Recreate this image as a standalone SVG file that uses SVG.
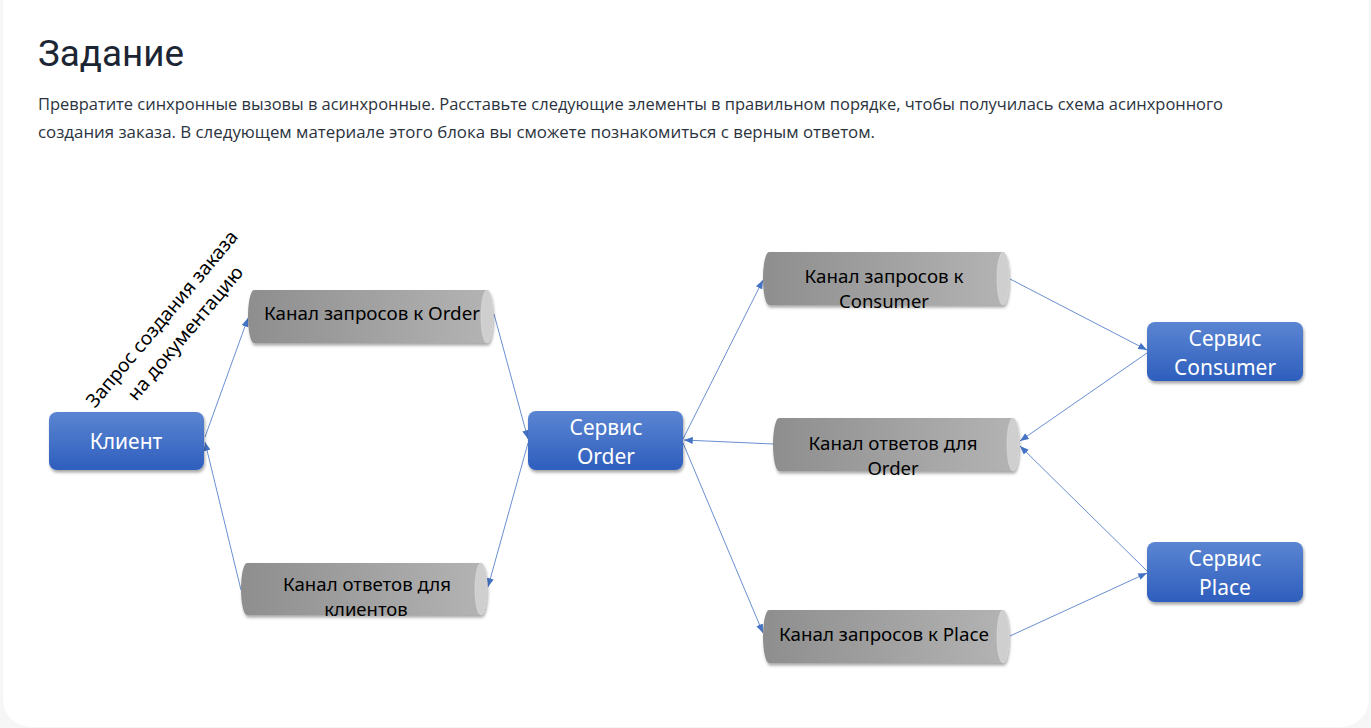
<svg xmlns="http://www.w3.org/2000/svg" width="1371" height="728" viewBox="0 0 1371 728">
<defs>
<style>
.title{font-family:Roboto,"Noto Sans",sans-serif;font-size:36px;fill:#1c2533}
.body{font-family:"Open Sans","Noto Sans",sans-serif;font-size:16px;fill:#2b3340}
.svc{fill:url(#gBlue);filter:url(#sh)}
.svct{font-family:"Noto Sans","Open Sans",sans-serif;font-size:21px;fill:#ffffff;text-anchor:middle}
.cyl{fill:url(#gGrey);filter:url(#sh)}
.cap{fill:#cfcfcf;stroke:#dcdcdc;stroke-width:0.6}
.cylt{font-family:"Noto Sans","Open Sans",sans-serif;font-size:18.5px;fill:#000000;text-anchor:middle}
.lbl{font-family:"Noto Sans","Open Sans",sans-serif;font-size:19px;fill:#000000;text-anchor:middle}
.con{stroke:#4472c4;stroke-width:0.8;fill:none;marker-end:url(#arr)}
</style>
<linearGradient id="gBlue" x1="0" y1="0" x2="0" y2="1">
<stop offset="0" stop-color="#5b85d2"/>
<stop offset="1" stop-color="#2e5ebd"/>
</linearGradient>
<linearGradient id="gGrey" x1="0" y1="0" x2="1" y2="0">
<stop offset="0" stop-color="#8e8e8e"/>
<stop offset="1" stop-color="#b4b4b4"/>
</linearGradient>
<filter id="sh" x="-10%" y="-20%" width="120%" height="150%">
<feDropShadow dx="1" dy="2.5" stdDeviation="1.6" flood-color="#000" flood-opacity="0.35"/>
</filter>
<marker id="arr" viewBox="0 0 10 8" refX="10" refY="4" markerWidth="9" markerHeight="7" orient="auto" markerUnits="userSpaceOnUse">
<path d="M0,0 L10,4 L0,8 Z" fill="#4472c4"/>
</marker>
</defs>
<rect x="0" y="0" width="1371" height="728" fill="#f6f6f7"/>
<rect x="3" y="-40" width="1366" height="767" rx="28" fill="#ffffff"/>
<g id="header">
<text class="title" x="38" y="66" textLength="146" lengthAdjust="spacingAndGlyphs">Задание</text>
<text class="body" x="38" y="110" textLength="1185" lengthAdjust="spacingAndGlyphs">Превратите синхронные вызовы в асинхронные. Расставьте следующие элементы в правильном порядке, чтобы получилась схема асинхронного</text>
<text class="body" x="38" y="138" textLength="837" lengthAdjust="spacingAndGlyphs">создания заказа. В следующем материале этого блока вы сможете познакомиться с верным ответом.</text>
</g>
<g id="connectors">
<line class="con" x1="205" y1="437" x2="248" y2="318"/>
<line class="con" x1="241" y1="590" x2="205" y2="442"/>
<line class="con" x1="494" y1="314" x2="528" y2="439"/>
<line class="con" x1="528" y1="443" x2="488" y2="587"/>
<line class="con" x1="683" y1="439" x2="763" y2="280"/>
<line class="con" x1="773" y1="444" x2="684" y2="440"/>
<line class="con" x1="683" y1="443" x2="763" y2="633"/>
<line class="con" x1="1010" y1="279" x2="1147" y2="350"/>
<line class="con" x1="1147" y1="353" x2="1020" y2="441"/>
<line class="con" x1="1147" y1="571" x2="1020" y2="446"/>
<line class="con" x1="1010" y1="636" x2="1147" y2="573"/>
</g>
<g id="client-label">
<text class="lbl" transform="translate(167,323) rotate(-50)"><tspan x="0" y="0" textLength="224" lengthAdjust="spacingAndGlyphs">Запрос создания заказа</tspan><tspan x="4" y="27" textLength="168" lengthAdjust="spacingAndGlyphs">на документацию</tspan></text>
</g>
<g id="client">
<rect class="svc" x="49" y="412" width="155" height="58" rx="8"/>
<text class="svct" x="126" y="449">Клиент</text>
</g>
<g id="order-service">
<rect class="svc" x="528" y="411" width="155" height="59" rx="8"/>
<text class="svct" x="606" y="435">Сервис</text>
<text class="svct" x="606" y="464">Order</text>
</g>
<g id="consumer-service">
<rect class="svc" x="1147" y="322" width="156" height="59" rx="8"/>
<text class="svct" x="1225" y="346">Сервис</text>
<text class="svct" x="1225" y="375">Consumer</text>
</g>
<g id="place-service">
<rect class="svc" x="1147" y="542" width="156" height="60" rx="8"/>
<text class="svct" x="1225" y="566">Сервис</text>
<text class="svct" x="1225" y="595">Place</text>
</g>
<g id="order-request-channel">
<path class="cyl" d="M254,290 L487,290 A6,26.5 0 0 1 487,343 L254,343 A6,26.5 0 0 1 254,290 Z"/>
<ellipse class="cap" cx="487" cy="316.5" rx="6" ry="26.5"/>
<text class="cylt" x="372" y="320" textLength="216" lengthAdjust="spacingAndGlyphs">Канал запросов к Order</text>
</g>
<g id="client-reply-channel">
<path class="cyl" d="M247,563 L481,563 A6,26 0 0 1 481,615 L247,615 A6,26 0 0 1 247,563 Z"/>
<ellipse class="cap" cx="481" cy="589" rx="6" ry="26"/>
<text class="cylt" x="367" y="591" textLength="168" lengthAdjust="spacingAndGlyphs">Канал ответов для</text>
<text class="cylt" x="366" y="616">клиентов</text>
</g>
<g id="consumer-request-channel">
<path class="cyl" d="M769,252 L1003,252 A6,26.5 0 0 1 1003,305 L769,305 A6,26.5 0 0 1 769,252 Z"/>
<ellipse class="cap" cx="1003" cy="278.5" rx="6" ry="26.5"/>
<text class="cylt" x="884" y="283" textLength="159" lengthAdjust="spacingAndGlyphs">Канал запросов к</text>
<text class="cylt" x="884" y="308">Consumer</text>
</g>
<g id="order-reply-channel">
<path class="cyl" d="M779,418 L1013,418 A6,26.5 0 0 1 1013,471 L779,471 A6,26.5 0 0 1 779,418 Z"/>
<ellipse class="cap" cx="1013" cy="444.5" rx="6" ry="26.5"/>
<text class="cylt" x="893" y="450" textLength="169" lengthAdjust="spacingAndGlyphs">Канал ответов для</text>
<text class="cylt" x="893" y="475">Order</text>
</g>
<g id="place-request-channel">
<path class="cyl" d="M769,610 L1003,610 A6,26.5 0 0 1 1003,663 L769,663 A6,26.5 0 0 1 769,610 Z"/>
<ellipse class="cap" cx="1003" cy="636.5" rx="6" ry="26.5"/>
<text class="cylt" x="884" y="641" textLength="210" lengthAdjust="spacingAndGlyphs">Канал запросов к Place</text>
</g>
</svg>
